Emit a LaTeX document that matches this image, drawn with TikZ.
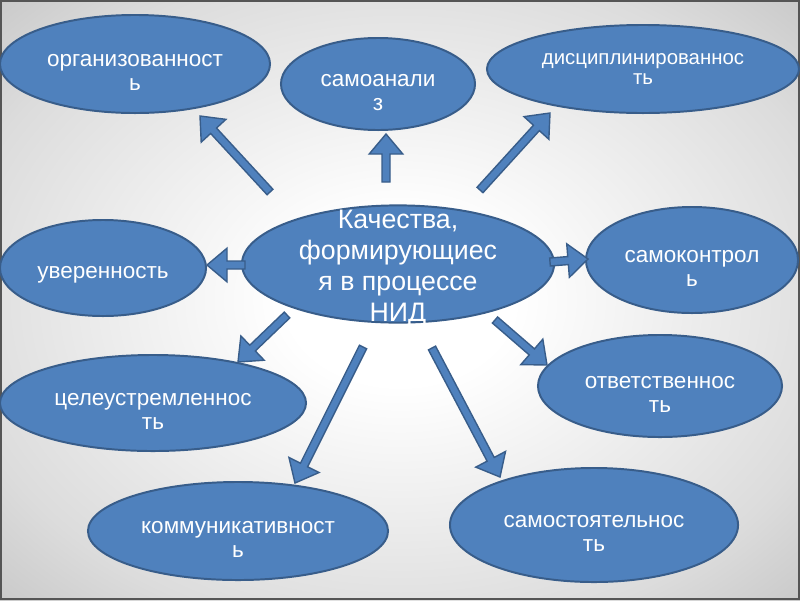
\documentclass[tikz,border=0pt]{standalone}
\usepackage{fontspec}
\setmainfont{Liberation Sans}
\usepackage{tikz}
\usetikzlibrary{calc, shapes.geometric, positioning}

\definecolor{qfill}{HTML}{4F81BD}
\definecolor{qline}{HTML}{385D8A}
\definecolor{bglight}{HTML}{DCDCDC}
\definecolor{bgmid}{HTML}{A6A6A6}
\definecolor{bgedge}{HTML}{878787}
\definecolor{frameline}{HTML}{555555}

\pgfdeclareradialshading{bgshade}{\pgfpoint{0bp}{0bp}}{%
  color(0bp)=(white); color(5bp)=(white); color(20bp)=(bglight);
  color(35bp)=(bgmid); color(50bp)=(bgedge)}

% размеры блочной стрелки
\newcommand{\arrshaft}{0.1cm}
\newcommand{\arrheadw}{0.42cm}
\newcommand{\arrheadl}{0.5cm}
% блочная стрелка от #1 к #2
\newcommand{\blockarrow}[2]{%
  \draw[arrowbody] let \p1=($(#2)-(#1)$), \n1={atan2(\y1,\x1)}, \n2={veclen(\x1,\y1)} in
    ($(#1)+({\n1+90}:\arrshaft)$)
    -- ($(#1)+({\n1}:{\n2-\arrheadl})+({\n1+90}:\arrshaft)$)
    -- ($(#1)+({\n1}:{\n2-\arrheadl})+({\n1+90}:\arrheadw)$)
    -- (#2)
    -- ($(#1)+({\n1}:{\n2-\arrheadl})+({\n1-90}:\arrheadw)$)
    -- ($(#1)+({\n1}:{\n2-\arrheadl})+({\n1-90}:\arrshaft)$)
    -- ($(#1)+({\n1-90}:\arrshaft)$) -- cycle;}

\begin{document}
\begin{tikzpicture}[x=0.025cm, y=-0.025cm,
    quality/.style={ellipse, draw=qline, fill=qfill, line width=1.4pt},
    qtext/.style={text=white, align=center, inner sep=0pt, yshift=-6pt,
      font=\fontsize{16}{17.5}\selectfont},
    arrowbody/.style={draw=qline, fill=qfill, line width=1pt, line join=miter}]

    % =================================================================
    % 1. ФОН И РАМКА
    % =================================================================
    \useasboundingbox (0,0) rectangle (800,600);
    \begin{scope}
        \clip (0,0) rectangle (800,600);
        \shade[shading=bgshade] (-166,-124) rectangle (966,724);
    \end{scope}
    \draw[frameline, line width=1.2pt] (1,1) rectangle (799,599);

    % =================================================================
    % 2. ЦЕНТРАЛЬНЫЙ ЭЛЛИПС
    % =================================================================
    \node[quality, minimum width=7.8cm, minimum height=2.93cm,
      label={[qtext, name=ctr-t, yshift=3pt, font=\fontsize{19}{22}\selectfont]center:{Качества,\\формирующиес\\я в процессе\\НИД}}]
      (ctr) at (398,264) {};

    % =================================================================
    % 3. КАЧЕСТВА ВОКРУГ
    % =================================================================
    \node[quality, minimum width=6.75cm, minimum height=2.45cm,
      label={[qtext, name=org-t]center:{организованност\\ь}}] (org) at (135,64) {};
    \node[quality, minimum width=4.85cm, minimum height=2.3cm,
      label={[qtext, name=analiz-t]center:{самоанали\\з}}] (analiz) at (378,84) {};
    \node[quality, minimum width=7.8cm, minimum height=2.2cm,
      label={[qtext, name=disc-t, yshift=6pt, font=\fontsize{14.5}{14.5}\selectfont]center:{дисциплинированнос\\ть}}] (disc) at (643,69) {};
    \node[quality, minimum width=5.15cm, minimum height=2.4cm,
      label={[qtext, name=uver-t, yshift=1.5pt]center:{уверенность}}] (uver) at (103,268) {};
    \node[quality, minimum width=5.3cm, minimum height=2.65cm,
      label={[qtext, name=kontrol-t]center:{самоконтрол\\ь}}] (kontrol) at (692,260) {};
    \node[quality, minimum width=7.65cm, minimum height=2.4cm,
      label={[qtext, name=cel-t]center:{целеустремленнос\\ть}}] (cel) at (153,403) {};
    \node[quality, minimum width=6.1cm, minimum height=2.55cm,
      label={[qtext, name=otv-t]center:{ответственнос\\ть}}] (otv) at (660,386) {};
    \node[quality, minimum width=7.5cm, minimum height=2.45cm,
      label={[qtext, name=komm-t]center:{коммуникативност\\ь}}] (komm) at (238,531) {};
    \node[quality, minimum width=7.2cm, minimum height=2.85cm,
      label={[qtext, name=samst-t]center:{самостоятельнос\\ть}}] (samst) at (594,525) {};

    % =================================================================
    % 4. БЛОЧНЫЕ СТРЕЛКИ (начало и конец)
    % =================================================================
    \coordinate (from-org) at (270,192);      \coordinate (to-org) at (200,116);
    \coordinate (from-analiz) at (386,182);   \coordinate (to-analiz) at (386,134);
    \coordinate (from-disc) at (480,190);     \coordinate (to-disc) at (550,113);
    \coordinate (from-uver) at (245,265);     \coordinate (to-uver) at (207,265);
    \coordinate (from-kontrol) at (550,262);  \coordinate (to-kontrol) at (588,259);
    \coordinate (from-cel) at (287,315);      \coordinate (to-cel) at (238,362);
    \coordinate (from-komm) at (363,347);     \coordinate (to-komm) at (295,483);
    \coordinate (from-otv) at (495,320);      \coordinate (to-otv) at (547,365);
    \coordinate (from-samst) at (432,348);    \coordinate (to-samst) at (500,477);

    \foreach \q in {org, analiz, disc, uver, kontrol, cel, komm, otv, samst}
        {\blockarrow{from-\q}{to-\q}}

\end{tikzpicture}
\end{document}
